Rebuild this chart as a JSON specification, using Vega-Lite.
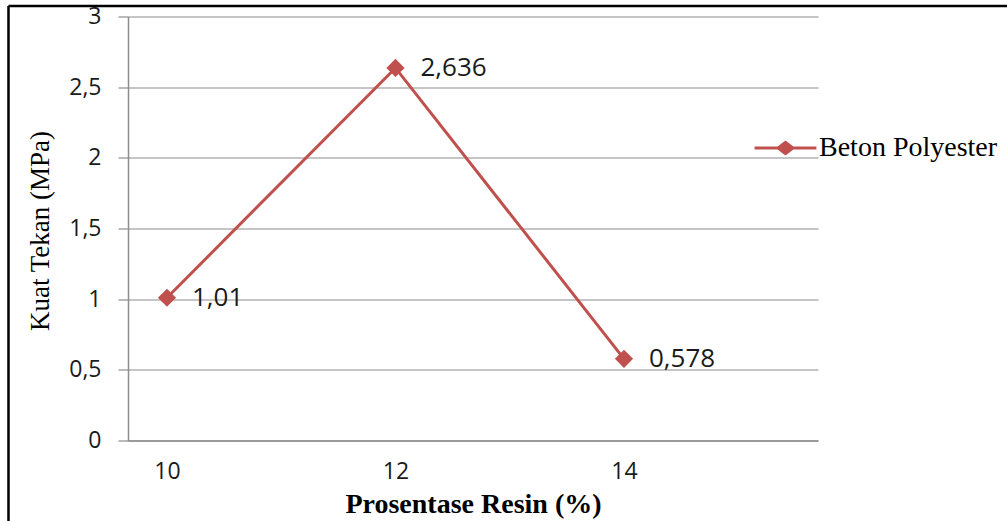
{
  "$schema": "https://vega.github.io/schema/vega-lite/v6.json",
  "width": 690,
  "height": 424,
  "autosize": "none",
  "padding": {"left": 128, "top": 16.5, "right": 189, "bottom": 80.5},
  "background": "white",
  "config": {
    "view": {"stroke": null},
    "axis": {"labelFont": "Open Sans", "labelFontSize": 23, "labelColor": "#1a1a1a", "titleColor": "#000000"}
  },
  "datasets": {
    "main": [
      {"resin": 10, "kuat": 1.01, "label": "1,01", "series": "Beton Polyester"},
      {"resin": 12, "kuat": 2.636, "label": "2,636", "series": "Beton Polyester"},
      {"resin": 14, "kuat": 0.578, "label": "0,578", "series": "Beton Polyester"}
    ],
    "frameH": [{"x": 8.613, "x2": 17.36, "y": 3.0745}],
    "frameV": [{"x": 8.613, "y": 3.0745, "y2": -0.58}]
  },
  "layer": [
    {
      "data": {"name": "frameH"},
      "mark": {"type": "rule", "color": "#000000", "strokeWidth": 2.5},
      "encoding": {
        "x": {"field": "x", "type": "quantitative", "scale": {"domain": [9.659, 15.698], "nice": false, "zero": false}},
        "x2": {"field": "x2"},
        "y": {"field": "y", "type": "quantitative", "scale": {"domain": [0, 3], "nice": false}}
      }
    },
    {
      "data": {"name": "frameV"},
      "mark": {"type": "rule", "color": "#000000", "strokeWidth": 2.5},
      "encoding": {
        "x": {"field": "x", "type": "quantitative"},
        "y": {"field": "y", "type": "quantitative"},
        "y2": {"field": "y2"}
      }
    },
    {
      "data": {"name": "main"},
      "mark": {"type": "line", "strokeWidth": 3},
      "encoding": {
        "x": {
          "field": "resin", "type": "quantitative",
          "scale": {"domain": [9.659, 15.698], "nice": false, "zero": false},
          "axis": {
            "values": [10, 12, 14], "format": "d", "grid": false, "ticks": false,
            "domainColor": "#8c8c8c", "domainWidth": 1.5,
            "labelPadding": 20,
            "title": "Prosentase Resin (%)",
            "titleFont": "Liberation Serif", "titleFontSize": 28, "titleFontWeight": "bold",
            "titleY": 64, "titleBaseline": "middle"
          }
        },
        "y": {
          "field": "kuat", "type": "quantitative",
          "scale": {"domain": [0, 3], "nice": false},
          "axis": {
            "values": [0, 0.5, 1, 1.5, 2, 2.5, 3],
            "labelExpr": "replace(format(datum.value, '~g'), '.', ',')",
            "grid": true, "gridColor": "#8c8c8c", "gridWidth": 1.2,
            "tickColor": "#8c8c8c", "tickSize": 10, "tickWidth": 1.2,
            "domainColor": "#8c8c8c", "domainWidth": 1.5,
            "labelPadding": 17,
            "title": "Kuat Tekan (MPa)",
            "titleFont": "Liberation Serif", "titleFontSize": 27, "titleFontWeight": "normal",
            "titleX": -88, "titleY": 214, "titleBaseline": "middle", "titleAngle": -90
          }
        },
        "color": {
          "field": "series", "type": "nominal",
          "scale": {"range": ["#C0504D"]},
          "legend": {
            "title": null,
            "orient": "none",
            "legendX": 635,
            "legendY": 109,
            "padding": 0,
            "symbolType": "M-1.5,0H1.5M-0.36,0L0,-0.27L0.36,0L0,0.27Z",
            "symbolSize": 1700,
            "symbolFillColor": "#C0504D",
            "symbolStrokeColor": "#C0504D",
            "symbolStrokeWidth": 3,
            "labelFont": "Liberation Serif",
            "labelFontSize": 28,
            "labelColor": "#000000",
            "labelOffset": 11,
            "labelLimit": 300
          }
        }
      }
    },
    {
      "data": {"name": "main"},
      "mark": {"type": "point", "shape": "diamond", "filled": true, "size": 330, "opacity": 1},
      "encoding": {
        "x": {"field": "resin", "type": "quantitative"},
        "y": {"field": "kuat", "type": "quantitative"},
        "color": {"field": "series", "type": "nominal"}
      }
    },
    {
      "data": {"name": "main"},
      "mark": {"type": "text", "align": "left", "baseline": "middle", "dx": 25, "font": "Open Sans", "fontSize": 26, "color": "#1a1a1a"},
      "encoding": {
        "x": {"field": "resin", "type": "quantitative"},
        "y": {"field": "kuat", "type": "quantitative"},
        "text": {"field": "label"}
      }
    }
  ]
}
